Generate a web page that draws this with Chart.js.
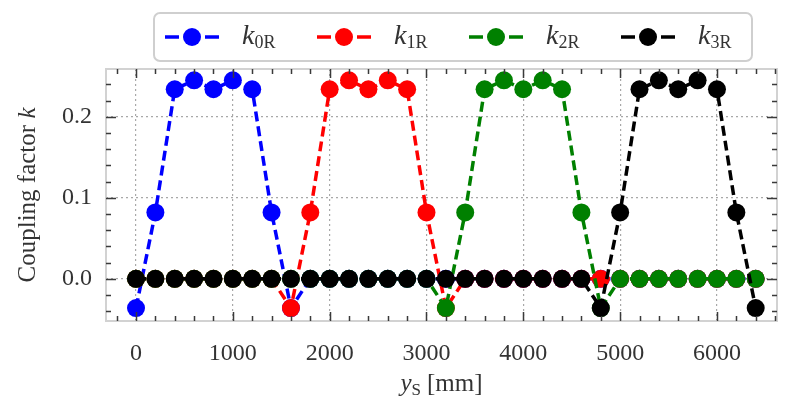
<!DOCTYPE html>
<html>
<head>
<meta charset="utf-8">
<script src="https://cdn.jsdelivr.net/npm/chart.js@4"></script>
<style>
  html, body { margin: 0; padding: 0; background: #fff; }
</style>
</head>
<body>
<canvas id="chart" width="786" height="400"></canvas>
<script>
// ─── Data ─────────────────────────────────────────────────────────────────────
const positions = [0, 200, 400, 600, 800, 1000, 1200, 1400, 1600, 1800, 2000, 2200, 2400, 2600, 2800, 3000,
  3200, 3400, 3600, 3800, 4000, 4200, 4400, 4600, 4800, 5000, 5200, 5400, 5600, 5800, 6000, 6200, 6400];

const k0R = [-0.036, 0.082, 0.234, 0.245, 0.234, 0.245, 0.234, 0.082, -0.036, 0, 0, 0, 0, 0, 0, 0,
  0, 0, 0, 0, 0, 0, 0, 0, 0, 0, 0, 0, 0, 0, 0, 0, 0];
const k1R = [0, 0, 0, 0, 0, 0, 0, 0, -0.036, 0.082, 0.234, 0.245, 0.234, 0.245, 0.234, 0.082,
  -0.036, 0, 0, 0, 0, 0, 0, 0, 0, 0, 0, 0, 0, 0, 0, 0, 0];
const k2R = [0, 0, 0, 0, 0, 0, 0, 0, 0, 0, 0, 0, 0, 0, 0, 0,
  -0.036, 0.082, 0.234, 0.245, 0.234, 0.245, 0.234, 0.082, -0.036, 0, 0, 0, 0, 0, 0, 0, 0];
const k3R = [0, 0, 0, 0, 0, 0, 0, 0, 0, 0, 0, 0, 0, 0, 0, 0,
  0, 0, 0, 0, 0, 0, 0, 0, -0.036, 0.082, 0.234, 0.245, 0.234, 0.245, 0.234, 0.082, -0.036];

const seriesSubs = ['0R', '1R', '2R', '3R'];
const seriesColors = ['#0000ff', '#ff0000', '#008000', '#000000'];

const xTicks = [0, 1000, 2000, 3000, 4000, 5000, 6000];
const xTickLabels = ['0', '1000', '2000', '3000', '4000', '5000', '6000'];
const yTicks = [0, 0.1, 0.2];
const yTickLabels = ['0.0', '0.1', '0.2'];

// ─── Style helpers ────────────────────────────────────────────────────────────
const SERIF = '"Liberation Serif", "DejaVu Serif", serif';
const TEXT_COLOR = '#333';
const TICK_COLOR = '#3a3a3a';
const FRAME_COLOR = '#d2d2d2';

function drawRich(ctx, parts, x, y) {
  let cx = x;
  parts.forEach(p => {
    ctx.font = p.font;
    ctx.fillText(p.t, cx, y + (p.dy || 0));
    cx += ctx.measureText(p.t).width + (p.gap || 0);
  });
  return cx - x;
}

function richWidth(ctx, parts) {
  return parts.reduce((w, p) => { ctx.font = p.font; return w + ctx.measureText(p.t).width + (p.gap || 0); }, 0);
}

// ─── Frame, inward ticks, titles and legend ───────────────────────────────────
const decorPlugin = {
  id: 'decor',
  afterDatasetsDraw(chart) {
    const { ctx, chartArea: a, scales: { x, y } } = chart;
    ctx.save();

    // frame
    ctx.strokeStyle = FRAME_COLOR;
    ctx.lineWidth = 2;
    ctx.strokeRect(a.left, a.top, a.right - a.left, a.bottom - a.top);

    // ticks (inside, all four sides)
    ctx.strokeStyle = TICK_COLOR;
    ctx.lineWidth = 1.5;
    const xMinor = [];
    for (let v = -200; v <= 6600; v += 200) if (v % 1000 !== 0) xMinor.push(v);
    const yMinor = [];
    for (let i = -2; i <= 12; i++) if (i % 5 !== 0) yMinor.push(i * 0.02);

    const tickX = (v, len) => {
      const px = Math.round(x.getPixelForValue(v)) + 0.5;
      if (px < a.left || px > a.right) return;
      ctx.beginPath();
      ctx.moveTo(px, a.bottom); ctx.lineTo(px, a.bottom - len);
      ctx.moveTo(px, a.top); ctx.lineTo(px, a.top + len);
      ctx.stroke();
    };
    const tickY = (v, len) => {
      const py = Math.round(y.getPixelForValue(v)) + 0.5;
      if (py < a.top || py > a.bottom) return;
      ctx.beginPath();
      ctx.moveTo(a.left, py); ctx.lineTo(a.left + len, py);
      ctx.moveTo(a.right, py); ctx.lineTo(a.right - len, py);
      ctx.stroke();
    };
    xTicks.forEach(v => tickX(v, 9));
    xMinor.forEach(v => tickX(v, 5));
    yTicks.forEach(v => tickY(v, 10));
    yMinor.forEach(v => tickY(v, 5));

    // axis titles
    ctx.fillStyle = TEXT_COLOR;
    ctx.textBaseline = 'alphabetic';
    ctx.textAlign = 'left';
    const xTitle = [
      { t: 'y', font: `italic 25px ${SERIF}` },
      { t: 'S', font: `17px ${SERIF}`, dy: 4, gap: 6 },
      { t: '[mm]', font: `25px ${SERIF}` }
    ];
    const xw = richWidth(ctx, xTitle);
    drawRich(ctx, xTitle, (a.left + a.right) / 2 - xw / 2, 391);

    ctx.save();
    ctx.translate(35, (a.top + a.bottom) / 2);
    ctx.rotate(-Math.PI / 2);
    const yTitle = [
      { t: 'Coupling factor ', font: `25px ${SERIF}` },
      { t: 'k', font: `italic 25px ${SERIF}` }
    ];
    const yw = richWidth(ctx, yTitle);
    drawRich(ctx, yTitle, -yw / 2, 0);
    ctx.restore();

    // legend
    const bx = 154, by = 13, bw = 598, bh = 48, r = 6;
    ctx.fillStyle = '#fff';
    ctx.strokeStyle = '#cfcfcf';
    ctx.lineWidth = 2;
    ctx.beginPath();
    ctx.roundRect(bx, by, bw, bh, r);
    ctx.fill();
    ctx.stroke();

    const legY = 37;
    seriesSubs.forEach((sub, i) => {
      const cx = 192 + i * 152;
      const col = seriesColors[i];
      ctx.strokeStyle = col;
      ctx.lineWidth = 3.5;
      ctx.beginPath();
      ctx.moveTo(cx - 27, legY); ctx.lineTo(cx - 13, legY);
      ctx.moveTo(cx + 13, legY); ctx.lineTo(cx + 27, legY);
      ctx.stroke();
      ctx.fillStyle = col;
      ctx.beginPath();
      ctx.arc(cx, legY, 9, 0, Math.PI * 2);
      ctx.fill();

      ctx.fillStyle = TEXT_COLOR;
      drawRich(ctx, [
        { t: 'k', font: `italic 28px ${SERIF}` },
        { t: sub, font: `18px ${SERIF}`, dy: 4 }
      ], cx + 50, 44);
    });

    ctx.restore();
  }
};

// ─── Chart ────────────────────────────────────────────────────────────────────
const seriesValues = [k0R, k1R, k2R, k3R];

new Chart(document.getElementById('chart'), {
  type: 'line',
  data: {
    datasets: seriesValues.map((vals, i) => ({
      label: 'k' + seriesSubs[i],
      data: positions.map((p, j) => ({ x: p, y: vals[j] })),
      borderColor: seriesColors[i],
      backgroundColor: seriesColors[i],
      borderWidth: 3.5,
      borderDash: [10, 5],
      pointRadius: 9,
      pointBorderWidth: 0,
      pointBackgroundColor: seriesColors[i],
      tension: 0,
      fill: false,
      order: 3 - i,
    }))
  },
  options: {
    responsive: false,
    animation: false,
    devicePixelRatio: 1,
    layout: { padding: { top: 69, right: 3, left: 0, bottom: 0 } },
    plugins: { legend: { display: false }, tooltip: { enabled: false } },
    scales: {
      x: {
        type: 'linear',
        min: -310, max: 6620,
        afterBuildTicks: s => { s.ticks = xTicks.map(v => ({ value: v })); },
        afterFit: s => { s.height = 79; },
        ticks: {
          callback: (v) => xTickLabels[xTicks.indexOf(v)] ?? '',
          color: TEXT_COLOR, padding: 18, maxRotation: 0, autoSkip: false,
          font: { family: SERIF, size: 24 }
        },
        grid: { color: '#a8a8a8', lineWidth: 1.2, drawTicks: false },
        border: { display: false, dash: [2, 3] },
      },
      y: {
        type: 'linear',
        min: -0.052, max: 0.259,
        afterBuildTicks: s => { s.ticks = yTicks.map(v => ({ value: v })); },
        afterFit: s => { s.width = 106; },
        ticks: {
          callback: (v) => yTickLabels[yTicks.findIndex(t => Math.abs(t - v) < 1e-9)] ?? '',
          color: TEXT_COLOR, padding: 14, autoSkip: false,
          font: { family: SERIF, size: 24 }
        },
        grid: { color: '#a8a8a8', lineWidth: 1.2, drawTicks: false },
        border: { display: false, dash: [2, 3] },
      }
    }
  },
  plugins: [decorPlugin]
});
</script>
</body>
</html>
